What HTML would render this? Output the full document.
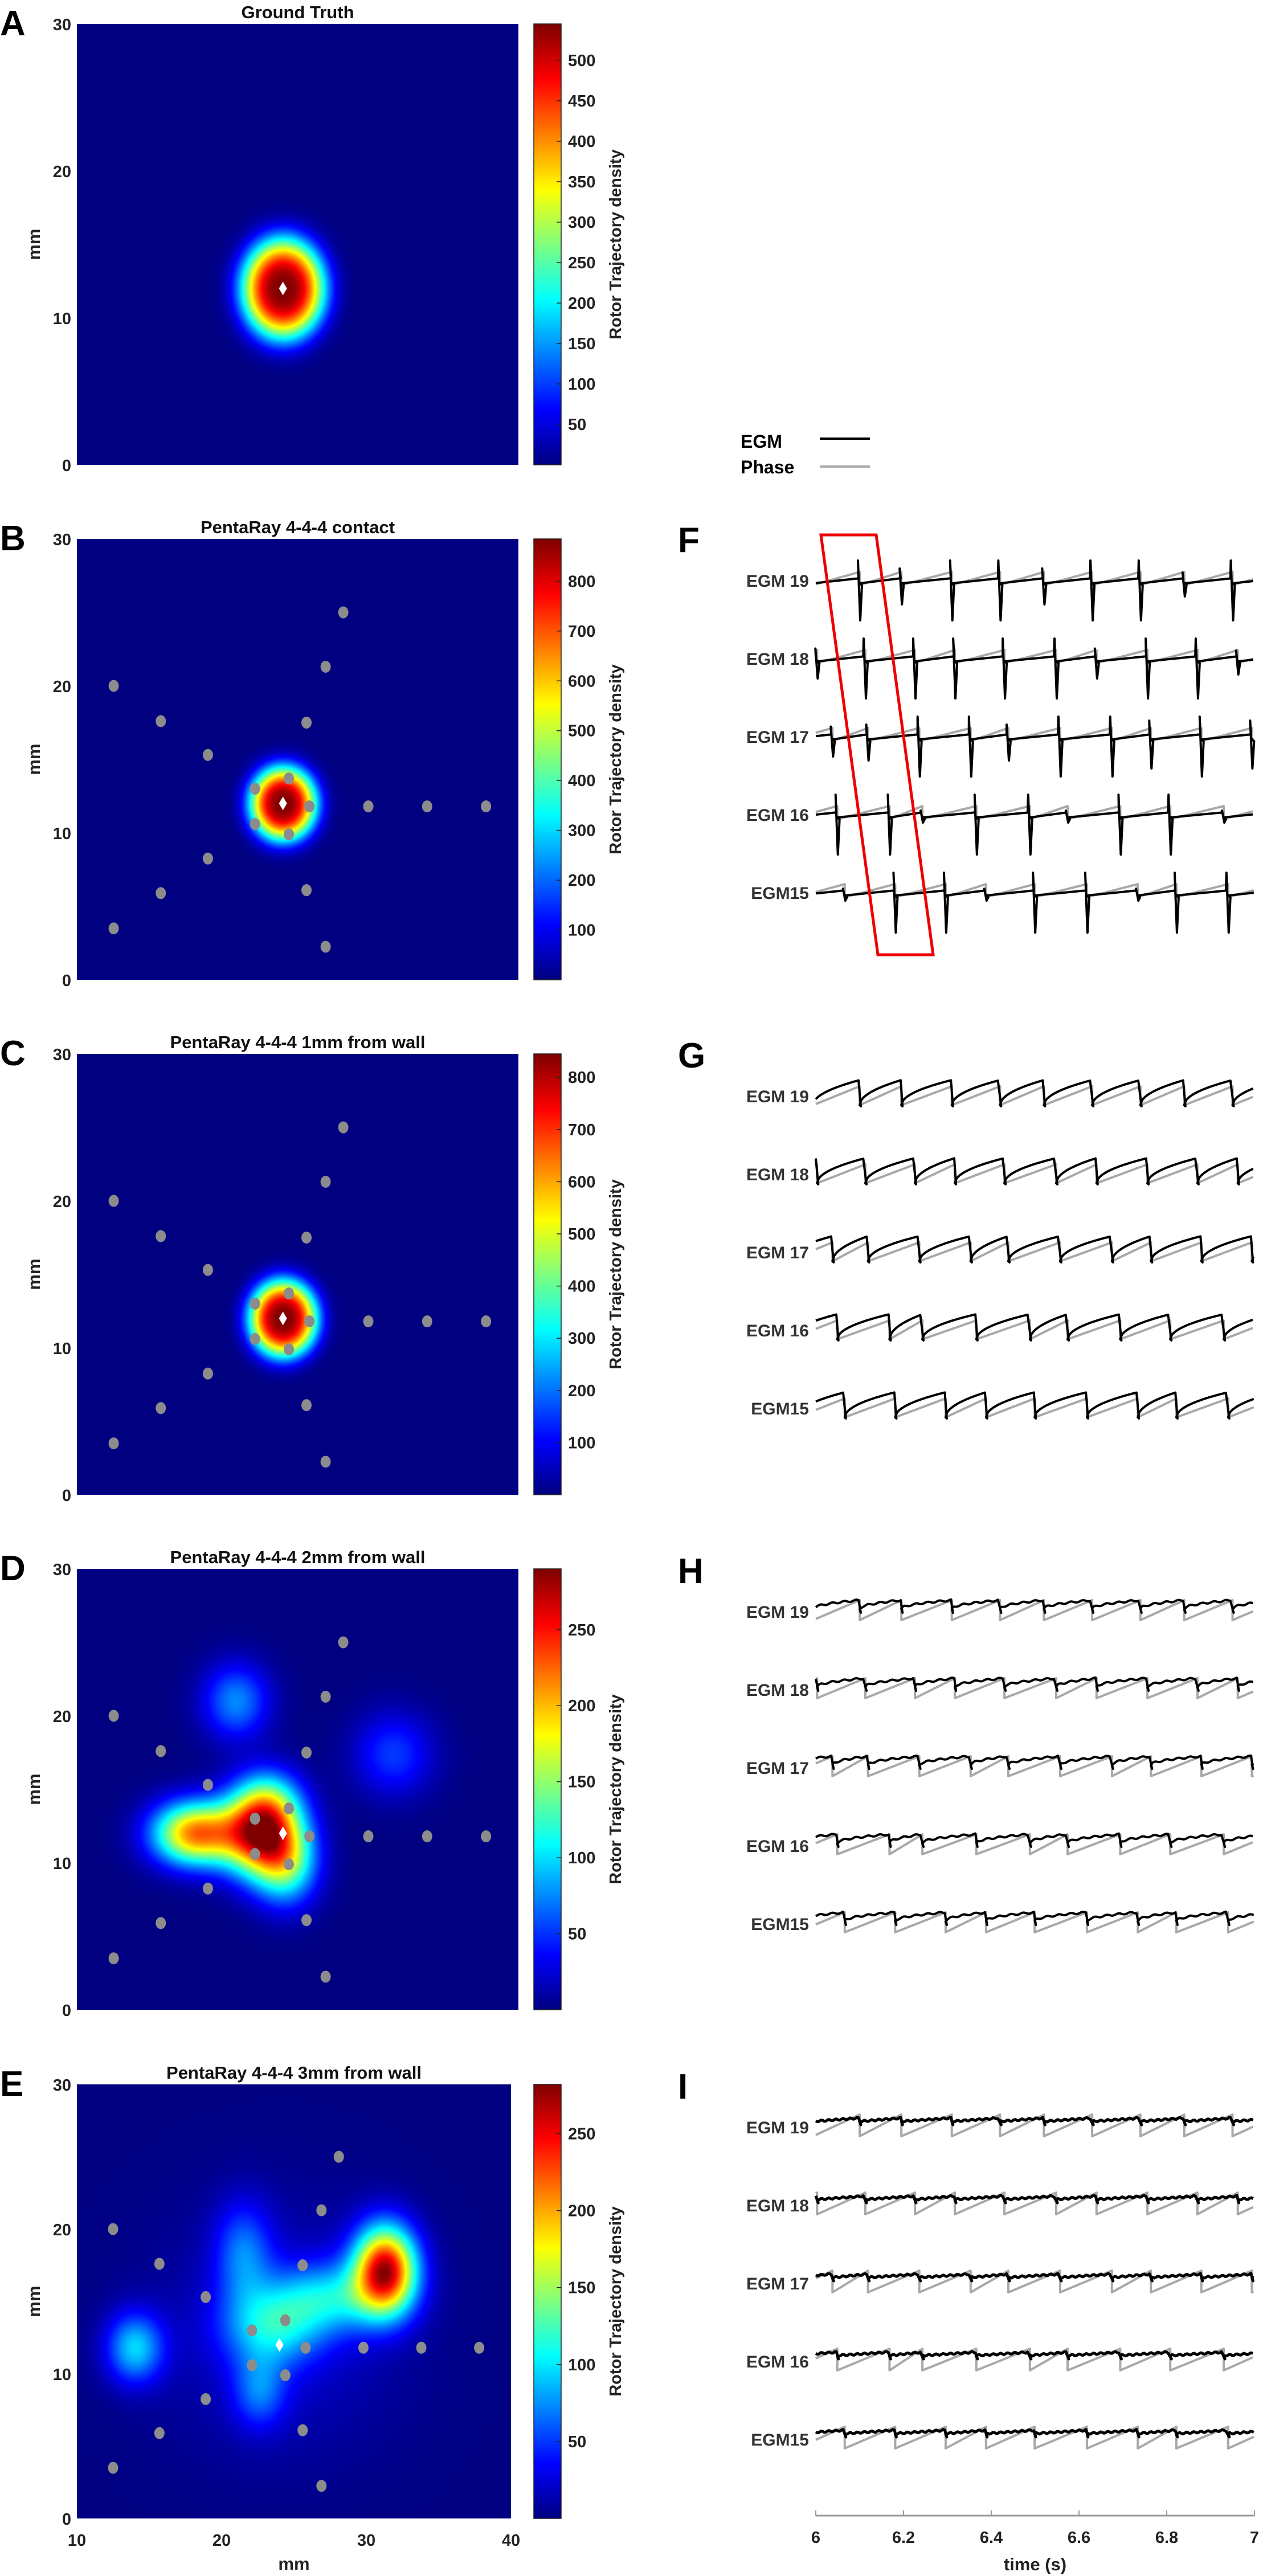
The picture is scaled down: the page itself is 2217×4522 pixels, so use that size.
<!DOCTYPE html>
<html><head><meta charset="utf-8">
<style>
html,body{margin:0;padding:0;background:#fff;}
#root{position:relative;width:2217px;height:4522px;overflow:hidden;background:#fff;font-family:"Liberation Sans",sans-serif;}
canvas{position:absolute;}
svg{position:absolute;left:0;top:0;}
text{font-family:"Liberation Sans",sans-serif;font-weight:bold;}
</style></head>
<body>
<div id="root">
<canvas id="hmA"></canvas>
<canvas id="hmB"></canvas>
<canvas id="hmC"></canvas>
<canvas id="hmD"></canvas>
<canvas id="hmE"></canvas>
<canvas id="cbA"></canvas>
<canvas id="cbB"></canvas>
<canvas id="cbC"></canvas>
<canvas id="cbD"></canvas>
<canvas id="cbE"></canvas>
<svg id="ov" width="2217" height="4522" xmlns="http://www.w3.org/2000/svg"></svg>
</div>
<script>
// ---------- Heatmap data (mm) ----------
const panelTitles = ["Ground Truth","PentaRay 4-4-4 contact","PentaRay 4-4-4 1mm from wall","PentaRay 4-4-4 2mm from wall","PentaRay 4-4-4 3mm from wall"];
const panelLetters = ["A","B","C","D","E"];
const cbarMax = [545, 885, 845, 290, 282];
const cbarTicksA = [50,100,150,200,250,300,350,400,450,500];
const cbarTicksB = [100,200,300,400,500,600,700,800];
const cbarTicksC = [100,200,300,400,500,600,700,800];
const cbarTicksD = [50,100,150,200,250];
const cbarTicksE = [50,100,150,200,250];
const yTicks = [0,10,20,30];
const xTicks = [10,20,30,40];
const blobXA=[24], blobYA=[12], blobSxA=[2.8], blobSyA=[3.4], blobAmpA=[545];
const blobXB=[24], blobYB=[12], blobSxB=[2.25], blobSyB=[2.5], blobAmpB=[885];
const blobXC=[24], blobYC=[12], blobSxC=[2.3], blobSyC=[2.6], blobAmpC=[845];
const blobXD=[22.4,18.0,24.2,23.0,20.8,31.5], blobYD=[12.0,12.0,10.0,14.2,21.0,17.4], blobSxD=[1.8,2.0,1.5,1.6,1.6,1.9], blobSyD=[2.0,1.5,2.0,1.6,1.8,2.0], blobAmpD=[235,215,120,80,75,52];
const blobXE=[31.3,27.5,23.5,21.5,14.0,22.6,24.0], blobYE=[17.2,15.3,13.2,18.3,11.8,8.8,13.0], blobSxE=[1.5,2.8,2.4,1.4,1.4,1.3,6.0], blobSyE=[2.1,1.7,1.9,2.5,1.7,1.8,6.0], blobAmpE=[255,80,80,60,90,55,22];
const shapeExp = [3,3,3,2,2];
const elecX=[28.1,26.9,12.5,15.7,25.6,18.9,24.4,22.1,25.8,29.8,33.8,37.8,22.1,24.4,18.9,25.6,15.7,12.5,26.9];
const elecY=[25.0,21.3,20.0,17.6,17.5,15.3,13.7,13.0,11.8,11.8,11.8,11.8,10.6,9.9,8.25,6.1,5.9,3.5,2.25];
const rotorX=24, rotorY=12;

// ---------- EGM data (activation times, s) ----------
const chanNames=["EGM 19","EGM 18","EGM 17","EGM 16","EGM15"];
const act19=[6.10,6.195,6.31,6.42,6.52,6.63,6.74,6.84,6.95];
const act18=[6.003,6.113,6.226,6.317,6.43,6.548,6.64,6.756,6.87,6.962];
const act17=[6.038,6.119,6.236,6.353,6.439,6.557,6.675,6.764,6.879,6.994];
const act16=[6.049,6.168,6.243,6.366,6.488,6.574,6.694,6.808,6.93];
const act15=[6.066,6.181,6.296,6.388,6.499,6.618,6.734,6.822,6.94];
const spike19=[1,0.6,1,1,0.6,1,1,0.4,1];
const spike18=[0.5,1,1,1,1,1,0.5,1,1,0.4];
const spike17=[0.5,0.6,1,1,0.6,1,1,0.8,1,0.8];
const spike16=[1,1,0.2,1,1,0.2,1,1,0.2];
const spike15=[0.2,1,1,0.2,1,1,0.2,1,1];
const timeTicks=[6,6.2,6.4,6.6,6.8,7];
const timeTickLabels=["6","6.2","6.4","6.6","6.8","7"];

const PT=[42,946,1850,2754,3659], PL=135, PW=[775,775,775,775,762], PH=[774,774,774,774,762];
const CBX=937, CBW=48;
const NS="http://www.w3.org/2000/svg";
const ov=document.getElementById('ov');
function el(tag,attrs,txt){const e=document.createElementNS(NS,tag);for(const k in attrs)e.setAttribute(k,attrs[k]);if(txt!==undefined)e.textContent=txt;ov.appendChild(e);return e;}

function jet(v){
  const f=(x)=>Math.max(0,Math.min(1,x));
  const r=f(1.5-Math.abs(4*v-3)), g=f(1.5-Math.abs(4*v-2)), b=f(1.5-Math.abs(4*v-1));
  return [r*255,g*255,b*255];
}
const blobs=[[blobXA,blobYA,blobSxA,blobSyA,blobAmpA],[blobXB,blobYB,blobSxB,blobSyB,blobAmpB],[blobXC,blobYC,blobSxC,blobSyC,blobAmpC],[blobXD,blobYD,blobSxD,blobSyD,blobAmpD],[blobXE,blobYE,blobSxE,blobSyE,blobAmpE]];
const cbTicks=[cbarTicksA,cbarTicksB,cbarTicksC,cbarTicksD,cbarTicksE];
const ids="ABCDE";
for(let p=0;p<5;p++){
  const W=PW[p],H=PH[p],top=PT[p];
  const xs=v=>PL+(v-10)/30*W, ys=v=>top+H-(v/30)*H;
  const cv=document.getElementById('hm'+ids[p]);
  cv.width=W;cv.height=H;cv.style.left=PL+'px';cv.style.top=top+'px';
  const ctx=cv.getContext('2d');const img=ctx.createImageData(W,H);
  const [bx,by,bsx,bsy,ba]=blobs[p];const ex=shapeExp[p];
  for(let j=0;j<H;j++){const my=(H-j)/H*30;
    for(let i=0;i<W;i++){const mx=10+i/W*30;let v=0;
      for(let k=0;k<bx.length;k++){const dx=(mx-bx[k])/bsx[k],dy=(my-by[k])/bsy[k];const d=Math.sqrt(dx*dx+dy*dy);v+=ba[k]*Math.exp(-Math.pow(d,ex)/(ex===2?2:1));}
      const c=jet(Math.min(1,v/cbarMax[p]));const o=(j*W+i)*4;img.data[o]=c[0];img.data[o+1]=c[1];img.data[o+2]=c[2];img.data[o+3]=255;}}
  ctx.putImageData(img,0,0);
  const cb=document.getElementById('cb'+ids[p]);cb.width=CBW;cb.height=H;cb.style.left=CBX+'px';cb.style.top=top+'px';
  const c2=cb.getContext('2d');
  for(let j=0;j<H;j++){const c=jet(1-j/H);c2.fillStyle=`rgb(${c[0]|0},${c[1]|0},${c[2]|0})`;c2.fillRect(0,j,CBW,1);}
  el('rect',{x:CBX,y:top,width:CBW,height:H,fill:'none',stroke:'#222','stroke-width':1.5,});
  cbTicks[p].forEach(t=>{const y=top+H-t/cbarMax[p]*H;
    const tl=el('line',{x1:CBX+CBW-8,x2:CBX+CBW,y1:y,y2:y,stroke:'#222','stroke-width':1.5});
    
    
    const tx=el('text',{x:CBX+CBW+12,y:y+10,'font-size':29,fill:'#222'},String(t));
    
    
  });
  const ct=el('text',{x:0,y:0,'font-size':29,fill:'#222','text-anchor':'middle',transform:`translate(1090 ${top+H/2}) rotate(-90)`},'Rotor Trajectory density');
  
  
  const tt=el('text',{x:PL+W/2,y:top-10,'font-size':31,'text-anchor':'middle',fill:'#111'},panelTitles[p]);
  
  
  const lt=el('text',{x:0,y:top+20,'font-size':62,fill:'#000'},panelLetters[p]);
  
  
  yTicks.forEach(t=>{const y=ys(t);
    const yl=el('text',{x:PL-10,y:y+11,'font-size':29,'text-anchor':'end',fill:'#222'},String(t));
    
    
  });
  const ya=el('text',{x:0,y:0,'font-size':31,'text-anchor':'middle',fill:'#222',transform:`translate(70 ${top+H/2}) rotate(-90)`},'mm');
  
  
  if(p>0){elecX.forEach((ex2,k)=>{const c=el('ellipse',{cx:xs(ex2),cy:ys(elecY[k]),rx:9,ry:10.5,fill:'#8c8c8c'});
    
    });}
  const rx=xs(rotorX),ry=ys(rotorY);
  const d=el('polygon',{points:`${rx},${ry-12} ${rx+7},${ry} ${rx},${ry+12} ${rx-7},${ry}`,fill:'#fff'});
  
  
  if(p===4){xTicks.forEach(t=>{const xl=el('text',{x:xs(t),y:top+H+48,'font-size':29,'text-anchor':'middle',fill:'#222'},String(t));
      
      });
    const xa=el('text',{x:PL+W/2,y:top+H+90,'font-size':31,'text-anchor':'middle',fill:'#222'},'mm');
    
    }
}

const TX0=1432, TX1=2202;
const tx=t=>TX0+(t-6)*(TX1-TX0);
const acts=[act19,act18,act17,act16,act15], spikes=[spike19,spike18,spike17,spike16,spike15];
const rightLetters=["F","G","H","I"];
const labY0=1019, rowDy=137, panelDy=905;
const lg1=el('text',{x:1300,y:786,'font-size':32,fill:'#000'},'EGM');

const lg2=el('text',{x:1300,y:831,'font-size':32,fill:'#000'},'Phase');

const ll1=el('line',{x1:1439,x2:1527,y1:770,y2:770,stroke:'#000','stroke-width':4});

const ll2=el('line',{x1:1439,x2:1527,y1:819,y2:819,stroke:'#aaa','stroke-width':4});


const phLo=[8,16,15,16], phHi=[-15,-17,-20,-22];
function add(path,x,y){return path+(path?'L':'M')+(+x).toFixed(1)+' '+(+y).toFixed(1);}
for(let q=0;q<4;q++){
  const lab=labY0+q*panelDy;
  const L=el('text',{x:1190,y:lab-50,'font-size':62,fill:'#000'},rightLetters[q]);
  
  for(let c=0;c<5;c++){
    const base=lab+c*rowDy;
    const nm=el('text',{x:1420,y:base+11,'font-size':30,'text-anchor':'end',fill:'#333'},chanNames[c]);
    
    const a=acts[c], s=spikes[c];
    const period=(a[a.length-1]-a[0])/(a.length-1);
    const times=[a[0]-period].concat(a,[a[a.length-1]+period]);
    let ph='';let egm='';
    for(let k=0;k<times.length-1;k++){
      const t0=times[k],t1=times[k+1];
      for(let px=Math.max(TX0,tx(t0));px<=Math.min(TX1,tx(t1)-1);px+=3){
        const u=(px-tx(t0))/(tx(t1)-tx(t0));
        ph=add(ph,px,base+phLo[q]+(phHi[q]-phLo[q])*u);
        let y;
        if(q===0) y=base+5-9*u;
        else if(q===1) y=base+16-44*Math.sqrt(u);
        else if(q===2) y=base-5-15*Math.sqrt(u)+1.5*Math.sin(px*0.3);
        else y=base-10-6*u+1.5*Math.sin(px*0.5);
        egm=add(egm,px,y);
      }
      const xa=tx(t1);
      if(xa>=TX0&&xa<=TX1){
        ph=add(ph,xa,base+phHi[q]);ph=add(ph,xa,base+phLo[q]);
        const sp=s[k]!==undefined?s[k]:1;
        if(q===0){egm=add(egm,xa-3,base-35*sp);egm=add(egm,xa+1,base+70*sp);egm=add(egm,xa+4,base+8);}
        else if(q===1){egm=add(egm,xa+2,base+18);}
        else if(q===2){egm=add(egm,xa+2,base+2);}
        else {egm=add(egm,xa+2,base-4);}
      }
    }
    const pp=el('path',{d:ph,fill:'none',stroke:'#a8a8a8','stroke-width':4,'stroke-linejoin':'round'});
    
    const ep=el('path',{d:egm,fill:'none',stroke:'#000','stroke-width':q===3?5:4,'stroke-linejoin':'round'});
    
  }
}
const rb=el('polygon',{points:'1441,939 1538,939 1638,1676 1541,1676',fill:'none',stroke:'#e00','stroke-width':5});

const axY=4416;
const ax=el('line',{x1:TX0,x2:TX1,y1:axY,y2:axY,stroke:'#999','stroke-width':3});

timeTicks.forEach((t,i)=>{const x=tx(t);
  const tk=el('line',{x1:x,x2:x,y1:axY,y2:axY-9,stroke:'#999','stroke-width':2});
  
  const tl=el('text',{x:x,y:axY+48,'font-size':29,'text-anchor':'middle',fill:'#222'},timeTickLabels[i]);
  
});
const tt=el('text',{x:(TX0+TX1)/2,y:4512,'font-size':31,'text-anchor':'middle',fill:'#222'},'time (s)');

</script>
</body></html>
